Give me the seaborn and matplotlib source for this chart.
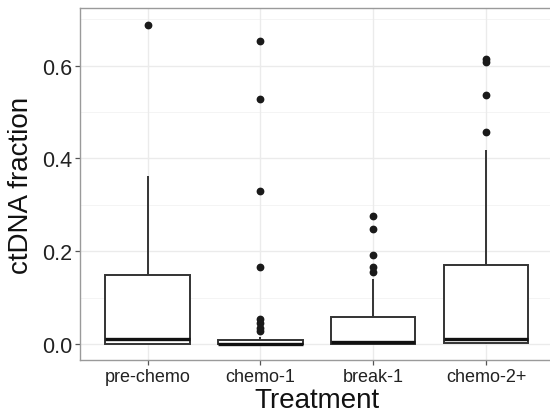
import matplotlib
matplotlib.use("Agg")
import matplotlib.pyplot as plt
import numpy as np
import pandas as pd
import seaborn as sns

# ctDNA fraction per sample, grouped by treatment phase
categories = ["pre-chemo", "chemo-1", "break-1", "chemo-2+"]

pre_chemo = [0.0, 0.0, 0.0, 0.0, 0.0, 0.002, 0.004, 0.007, 0.011,
             0.025, 0.05, 0.09, 0.148, 0.19, 0.26, 0.363, 0.688]

chemo_1 = [0.0, 0.0, 0.0, 0.0, 0.0, 0.0, 0.0, 0.0, 0.0, 0.0,
           0.0002, 0.0003, 0.0004, 0.0005, 0.0006, 0.0007, 0.0008, 0.0009,
           0.001,
           0.0015, 0.002, 0.0025, 0.003, 0.004, 0.005, 0.006, 0.007,
           0.008, 0.016,
           0.029, 0.034, 0.046, 0.054, 0.165, 0.329, 0.528, 0.653]

break_1 = [0.0, 0.0, 0.0, 0.0, 0.0, 0.0, 0.0, 0.0, 0.0, 0.0, 0.0,
           0.0005, 0.001, 0.0015, 0.002, 0.0025, 0.003, 0.003, 0.0035, 0.0035,
           0.004,
           0.006, 0.01, 0.015, 0.02, 0.025, 0.03, 0.04, 0.045, 0.05,
           0.059,
           0.07, 0.085, 0.1, 0.12, 0.14,
           0.156, 0.165, 0.191, 0.249, 0.277]

chemo_2 = [0.0, 0.0, 0.001, 0.002, 0.0025, 0.003,
           0.005, 0.007, 0.008, 0.01, 0.011,
           0.03, 0.06, 0.1, 0.13, 0.17,
           0.418, 0.458, 0.537, 0.608, 0.615]

y_ticks = [0.0, 0.2, 0.4, 0.6]
y_minor = [0.1, 0.3, 0.5, 0.7]

groups = [pre_chemo, chemo_1, break_1, chemo_2]
df = pd.DataFrame({
    "Treatment": np.repeat(categories, [len(g) for g in groups]),
    "fraction": np.concatenate(groups),
})

sns.set_theme(style="white")
plt.rcParams["font.family"] = ["Liberation Sans", "DejaVu Sans"]

fig = plt.figure(figsize=(5.5, 4.14), dpi=100)
ax = fig.add_axes([80 / 550, 53 / 414, 473.6 / 550, 352 / 414])

# ggplot theme_bw style grid
for y in y_ticks:
    ax.axhline(y, color="#ebebeb", lw=1.0, zorder=0)
for y in y_minor:
    ax.axhline(y, color="#f2f2f2", lw=0.6, zorder=0)
for i in range(len(categories)):
    ax.axvline(i, color="#ebebeb", lw=1.0, zorder=0)

sns.boxplot(data=df, x="Treatment", y="fraction", order=categories, ax=ax,
            color="white", linecolor="#333333", width=0.75, linewidth=1.4,
            showcaps=False,
            medianprops=dict(color="#111111", linewidth=2.4),
            flierprops=dict(marker="o", markersize=4.6, markerfacecolor="#1a1a1a",
                            markeredgecolor="#1a1a1a"))

ax.set_xlim(-0.6, 3.6)
ax.set_ylim(-0.0345, 0.7245)
ax.set_yticks(y_ticks)
ax.set_yticklabels(["0.0", "0.2", "0.4", "0.6"])

for side in ["top", "bottom", "left"]:
    ax.spines[side].set_visible(True)
    ax.spines[side].set_color("#9a9a9a")
    ax.spines[side].set_linewidth(1.0)
ax.spines["right"].set_visible(False)

ax.tick_params(axis="both", which="major", length=3.5, width=0.9, color="#555555",
               bottom=True, left=True, colors="#222222")
ax.tick_params(axis="y", labelsize=15.5, pad=2)
ax.tick_params(axis="x", labelsize=13, pad=2)

ax.set_xlabel("Treatment", fontsize=20, color="#111111", labelpad=2)
ax.set_ylabel("ctDNA fraction", fontsize=20, color="#111111", labelpad=6)

fig.savefig("out.png", dpi=100)
